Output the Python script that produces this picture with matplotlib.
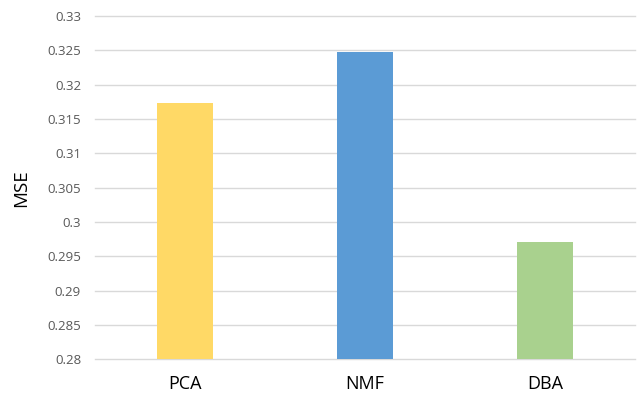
#!/usr/bin/env python3
"""MSE bar chart for PCA / NMF / DBA."""

import matplotlib
matplotlib.use('Agg')
import matplotlib.pyplot as plt

methods = ['PCA', 'NMF', 'DBA']
mse = [0.3173, 0.3248, 0.2971]
colors = ['#FFD966', '#5B9BD5', '#A9D18E']
yticks = [0.28, 0.285, 0.29, 0.295, 0.3, 0.305, 0.31, 0.315, 0.32, 0.325, 0.33]
ytick_labels = ['0.28', '0.285', '0.29', '0.295', '0.3', '0.305', '0.31',
                '0.315', '0.32', '0.325', '0.33']

plt.rcParams['font.family'] = ['Open Sans', 'DejaVu Sans']

fig = plt.figure(figsize=(6.41, 3.93), dpi=100)
ax = fig.add_axes([0.1482, 0.0858, 0.8424, 0.8735])

ax.bar(range(len(methods)), mse, width=0.315, color=colors, zorder=3)

ax.set_xlim(-0.5, len(methods) - 0.5)
ax.set_ylim(0.28, 0.33)
ax.set_yticks(yticks)
ax.set_yticklabels(ytick_labels, fontsize=9.5, color='#595959')
ax.set_xticks(range(len(methods)))
ax.set_xticklabels(methods, fontsize=13, color='#000000')
ax.tick_params(axis='both', length=0)
ax.tick_params(axis='y', pad=10)
ax.tick_params(axis='x', pad=11)

ax.grid(axis='y', color='#D9D9D9', linewidth=1, zorder=0)
for line in ax.get_ygridlines():
    line.set_clip_on(False)  # keep the edge lines at full weight
for s in ax.spines.values():
    s.set_visible(False)

ax.set_ylabel('MSE', fontsize=13.5, labelpad=12)

fig.savefig('out.png', dpi=100)
